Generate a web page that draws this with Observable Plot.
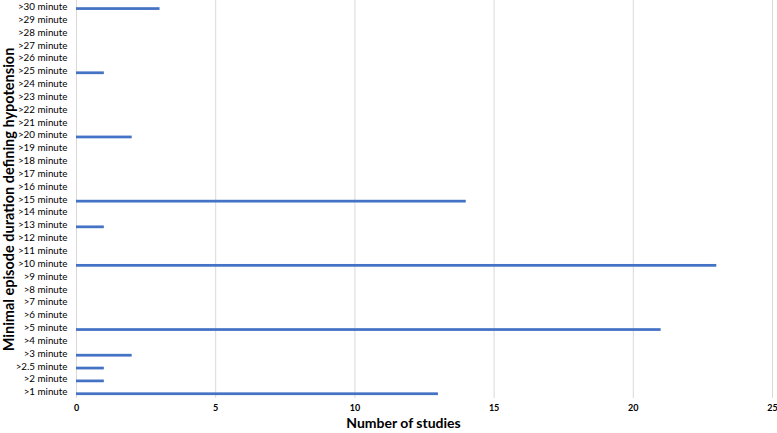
<!DOCTYPE html>
<html>
<head>
<meta charset="utf-8">
<script src="https://cdn.jsdelivr.net/npm/d3@7"></script>
<script src="https://cdn.jsdelivr.net/npm/@observablehq/plot@0.6"></script>
<style>
  html, body { margin: 0; padding: 0; background: #fff; }
  svg { display: block; }
</style>
</head>
<body>
<div id="chart"></div>
<script>
const categories = [">30 minute", ">29 minute", ">28 minute", ">27 minute", ">26 minute", ">25 minute",
  ">24 minute", ">23 minute", ">22 minute", ">21 minute", ">20 minute", ">19 minute", ">18 minute",
  ">17 minute", ">16 minute", ">15 minute", ">14 minute", ">13 minute", ">12 minute", ">11 minute",
  ">10 minute", ">9 minute", ">8 minute", ">7 minute", ">6 minute", ">5 minute", ">4 minute",
  ">3 minute", ">2.5 minute", ">2 minute", ">1 minute"];
const counts = [3, 0, 0, 0, 0, 1,
  0, 0, 0, 0, 2, 0, 0,
  0, 0, 14, 0, 1, 0, 0,
  23, 0, 0, 0, 0, 21, 0,
  2, 1, 1, 13];
const xTicks = [0, 5, 10, 15, 20, 25];
const xTitle = "Number of studies";
const yTitle = "Minimal episode duration defining hypotension";

const data = categories.map((c, i) => ({category: c, value: counts[i]}));
const font = "Lato, 'Open Sans', sans-serif";

const chart = Plot.plot({
  width: 777,
  height: 433,
  marginLeft: 76,
  marginRight: 5,
  marginTop: 0,
  marginBottom: 35,
  style: {fontFamily: font, background: "#fff", color: "#000"},
  x: {domain: [0, 25], ticks: xTicks},
  y: {domain: categories, padding: 0, round: false},
  marks: [
    Plot.gridX(xTicks, {stroke: "#d9d9d9", strokeOpacity: 1, strokeWidth: 1}),
    Plot.barX(data.filter(d => d.value > 0), {
      x: "value", y: "category", fill: "#4472C4",
      insetTop: 7.2, insetBottom: 2.9
    }),
    Plot.axisY({tickSize: 0, tickPadding: 9, fontSize: 9.8, label: null}),
    Plot.axisX({ticks: xTicks, tickSize: 0, tickPadding: 6.5, fontSize: 9, fontWeight: "bold", label: null}),
    Plot.text([xTitle], {frameAnchor: "bottom", dy: 29.5, dx: -21, fontSize: 14, fontWeight: "bold", fill: "#000"}),
    Plot.text([yTitle], {frameAnchor: "left", dx: -67, rotate: -90, textAnchor: "middle", fontSize: 14.5, fontWeight: "bold", fill: "#000"})
  ]
});
document.getElementById("chart").appendChild(chart);
</script>
</body>
</html>
